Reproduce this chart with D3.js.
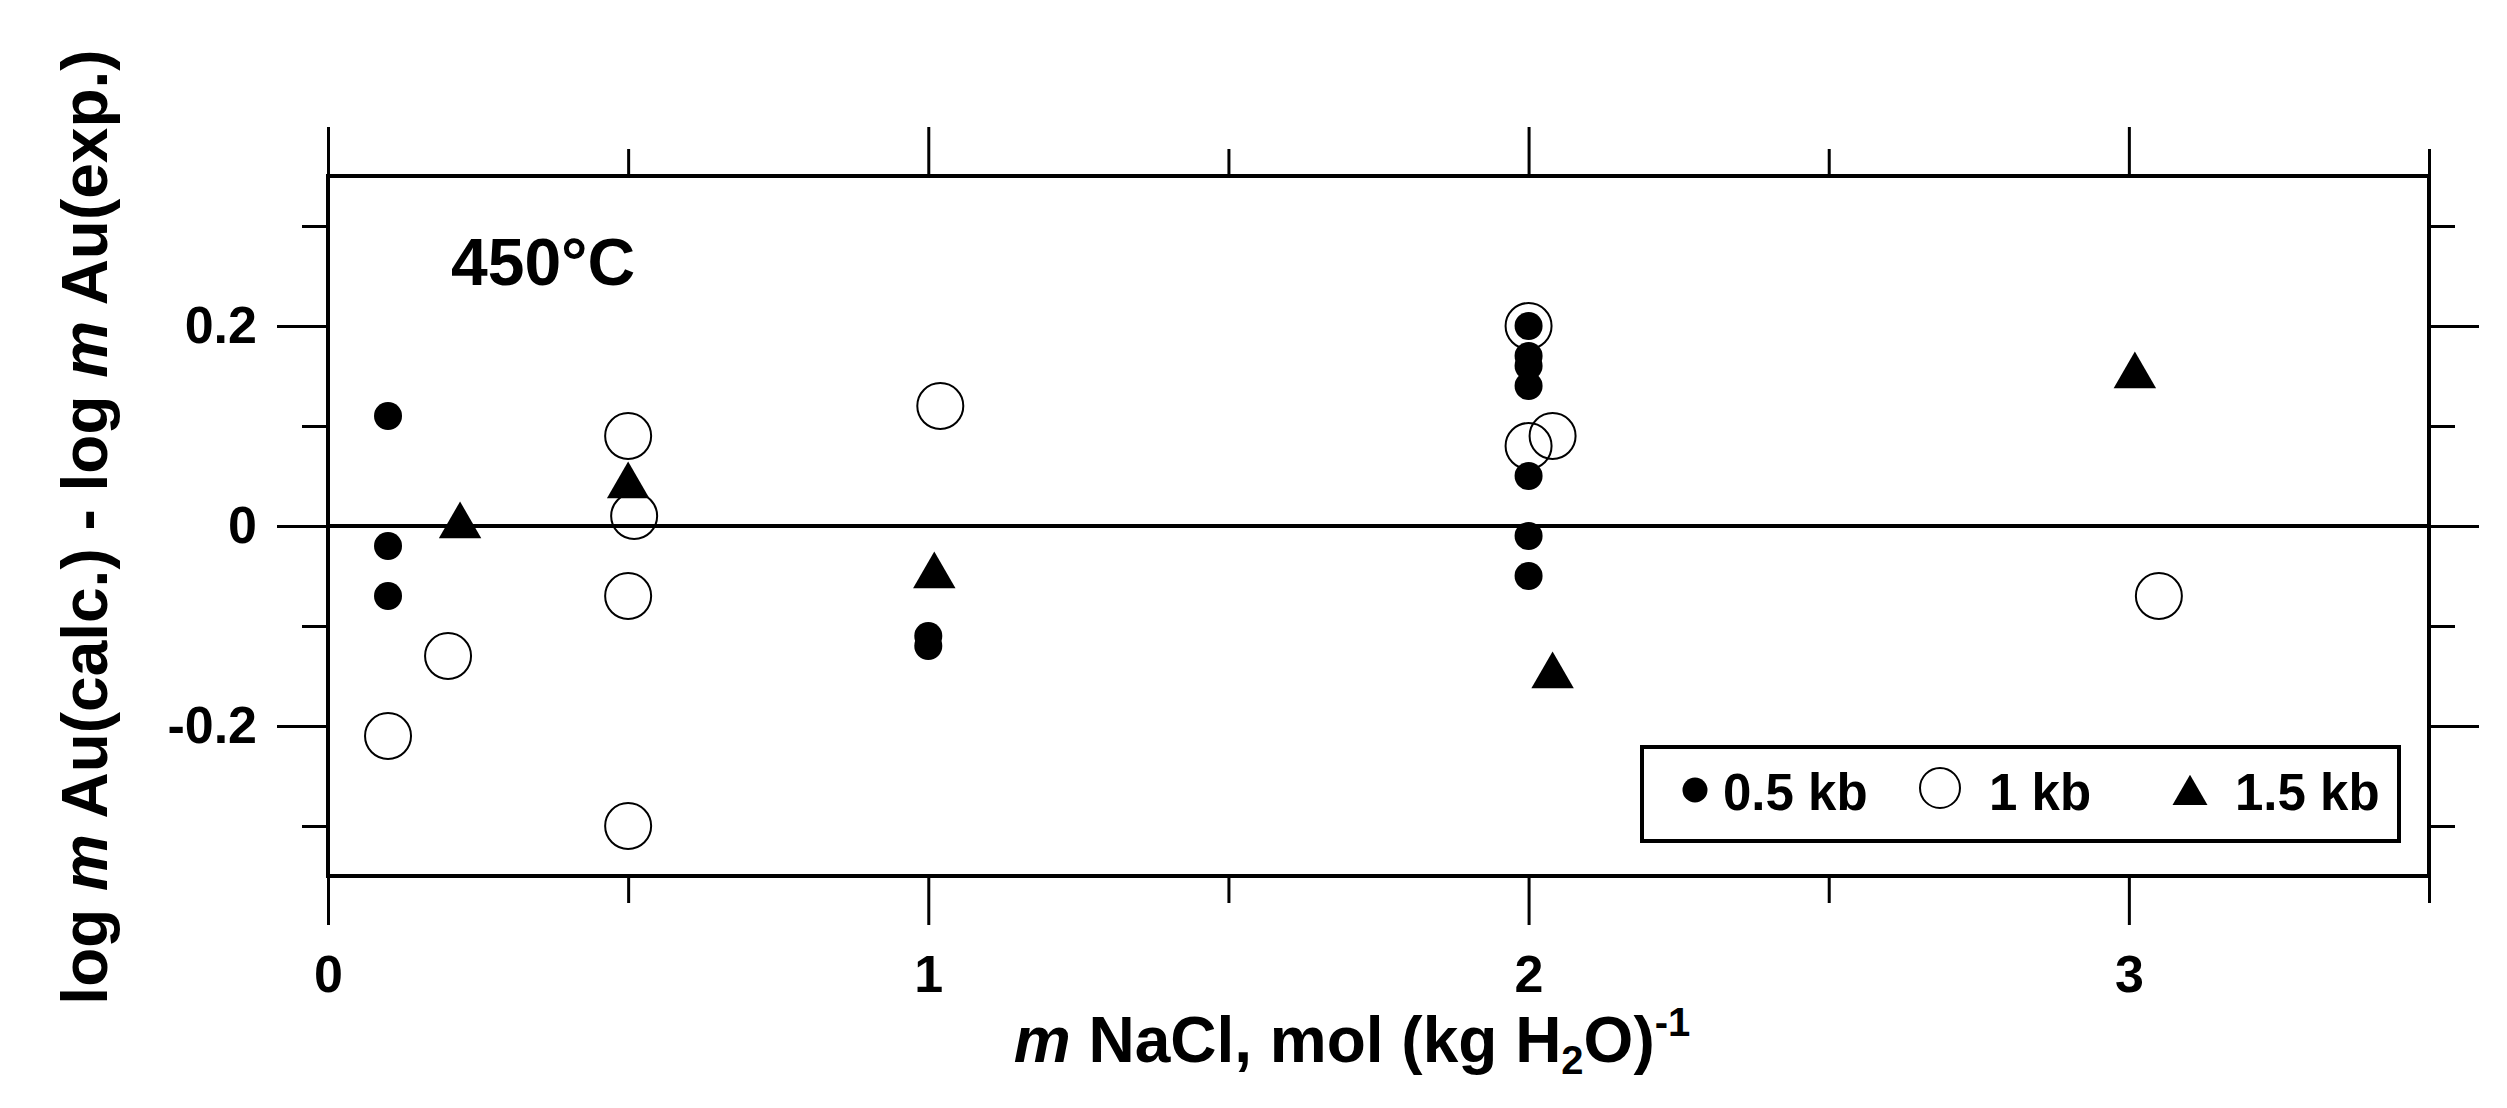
<!DOCTYPE html>
<html><head><meta charset="utf-8">
<script src="https://cdn.jsdelivr.net/npm/d3@7/dist/d3.min.js"></script>
<style>
html,body{margin:0;padding:0;background:#fff;}
text{font-family:"Liberation Sans",Arial,sans-serif;font-weight:bold;fill:#000;}
</style></head>
<body><svg id="c" width="2507" height="1108"></svg>
<script>
// ---- data ----
const xMajorTicks = [0, 1, 2, 3];
const xMinorTicks = [0.5, 1.5, 2.5, 3.5];
const yMajorTicks = [-0.2, 0, 0.2];
const yMinorTicks = [-0.3, -0.1, 0.1, 0.3];
const yTickLabels = ["-0.2", "0", "0.2"];
const xTickLabels = ["0", "1", "2", "3"];

const kb05X = [0.1, 0.1, 0.1, 1, 1, 2, 2, 2, 2, 2, 2, 2];
const kb05Y = [0.11, -0.02, -0.07, -0.11, -0.12, 0.2, 0.17, 0.16, 0.14, 0.05, -0.01, -0.05];
const kb1X = [0.1, 0.2, 0.5, 0.51, 0.5, 0.5, 1.02, 2, 2, 2.04, 3.05];
const kb1Y = [-0.21, -0.13, 0.09, 0.01, -0.07, -0.3, 0.12, 0.2, 0.08, 0.09, -0.07];
const kb15X = [0.22, 0.5, 1.01, 2.04, 3.01];
const kb15Y = [0, 0.04, -0.05, -0.15, 0.15];
const seriesNames = ["0.5 kb", "1 kb", "1.5 kb"];

// ---- layout ----
const svg = d3.select("#c");
const L = 328, R = 2429, T = 176, B = 876;
const x = d3.scaleLinear().domain([0, 3.5]).range([L, R]);
const y = d3.scaleLinear().domain([-0.35, 0.35]).range([B, T]);

function styleAxis(g){
  g.select(".domain").remove();
  g.selectAll(".tick line").attr("stroke", "#000").attr("stroke-width", 3);
  g.selectAll(".tick text").style("font-size", "52px").attr("fill", "#000");
}
// bottom
svg.append("g").attr("transform", `translate(0,${B})`)
  .call(d3.axisBottom(x).tickValues(xMajorTicks).tickSize(49).tickPadding(30)
    .tickFormat((d,i)=>xTickLabels[i])).call(styleAxis);
svg.append("g").attr("transform", `translate(0,${B})`)
  .call(d3.axisBottom(x).tickValues(xMinorTicks).tickSize(27).tickFormat("")).call(styleAxis);
// top
svg.append("g").attr("transform", `translate(0,${T})`)
  .call(d3.axisTop(x).tickValues(xMajorTicks).tickSize(49).tickFormat("")).call(styleAxis);
svg.append("g").attr("transform", `translate(0,${T})`)
  .call(d3.axisTop(x).tickValues(xMinorTicks).tickSize(27).tickFormat("")).call(styleAxis);
// left
svg.append("g").attr("transform", `translate(${L},0)`)
  .call(d3.axisLeft(y).tickValues(yMajorTicks).tickSize(51).tickPadding(20)
    .tickFormat((d,i)=>yTickLabels[i])).call(styleAxis);
svg.append("g").attr("transform", `translate(${L},0)`)
  .call(d3.axisLeft(y).tickValues(yMinorTicks).tickSize(26).tickFormat("")).call(styleAxis);
// right
svg.append("g").attr("transform", `translate(${R},0)`)
  .call(d3.axisRight(y).tickValues(yMajorTicks).tickSize(50).tickFormat("")).call(styleAxis);
svg.append("g").attr("transform", `translate(${R},0)`)
  .call(d3.axisRight(y).tickValues(yMinorTicks).tickSize(26).tickFormat("")).call(styleAxis);

// zero line
svg.append("line").attr("x1", L).attr("x2", R).attr("y1", y(0)).attr("y2", y(0))
  .attr("stroke", "#000").attr("stroke-width", 4);
// frame
svg.append("rect").attr("x", L).attr("y", T).attr("width", R - L).attr("height", B - T)
  .attr("fill", "none").attr("stroke", "#000").attr("stroke-width", 4);

// ---- marks ----
const zip = (xs, ys) => xs.map((v, i) => [v, ys[i]]);
const g = svg.append("g");
g.selectAll("circle.o").data(zip(kb1X, kb1Y)).join("circle")
  .attr("cx", d => x(d[0])).attr("cy", d => y(d[1])).attr("r", 23)
  .attr("fill", "none").attr("stroke", "#000").attr("stroke-width", 2);
g.selectAll("circle.f").data(zip(kb05X, kb05Y)).join("circle")
  .attr("cx", d => x(d[0])).attr("cy", d => y(d[1])).attr("r", 14).attr("fill", "#000");
const tri = d3.symbol().type(d3.symbolTriangle).size(780);
g.selectAll("path.t").data(zip(kb15X, kb15Y)).join("path")
  .attr("d", tri).attr("transform", d => `translate(${x(d[0])},${y(d[1])})`).attr("fill", "#000");

// ---- annotation ----
svg.append("text").attr("x", 451).attr("y", 285).style("font-size", "66px").text("450°C");

// ---- legend ----
const lg = svg.append("g");
lg.append("rect").attr("x", 1642).attr("y", 747).attr("width", 757).attr("height", 94)
  .attr("fill", "#fff").attr("stroke", "#000").attr("stroke-width", 4);
lg.append("circle").attr("cx", 1695).attr("cy", 790).attr("r", 12.5).attr("fill", "#000");
lg.append("circle").attr("cx", 1940).attr("cy", 788).attr("r", 20)
  .attr("fill", "none").attr("stroke", "#000").attr("stroke-width", 2);
lg.append("path").attr("d", d3.symbol().type(d3.symbolTriangle).size(530))
  .attr("transform", "translate(2190,795)").attr("fill", "#000");
const lx = [1723, 1989, 2235];
lg.selectAll("text").data(seriesNames).join("text")
  .attr("x", (d, i) => lx[i]).attr("y", 810).style("font-size", "51px").text(d => d);

// ---- axis titles ----
const xt = svg.append("text").attr("x", 1352).attr("y", 1062).attr("text-anchor", "middle")
  .style("font-size", "64px");
xt.append("tspan").style("font-style", "italic").text("m");
xt.append("tspan").text(" NaCl, mol (kg H");
xt.append("tspan").attr("dy", 12).style("font-size", "40px").text("2");
xt.append("tspan").attr("dy", -12).text("O)");
xt.append("tspan").attr("dy", -26).style("font-size", "40px").text("-1");

const yt = svg.append("text").attr("transform", "translate(107,527) rotate(-90)")
  .attr("text-anchor", "middle").style("font-size", "64px");
yt.append("tspan").text("log ");
yt.append("tspan").style("font-style", "italic").text("m");
yt.append("tspan").text(" Au(calc.) - log ");
yt.append("tspan").style("font-style", "italic").text("m");
yt.append("tspan").text(" Au(exp.)");
</script></body></html>
